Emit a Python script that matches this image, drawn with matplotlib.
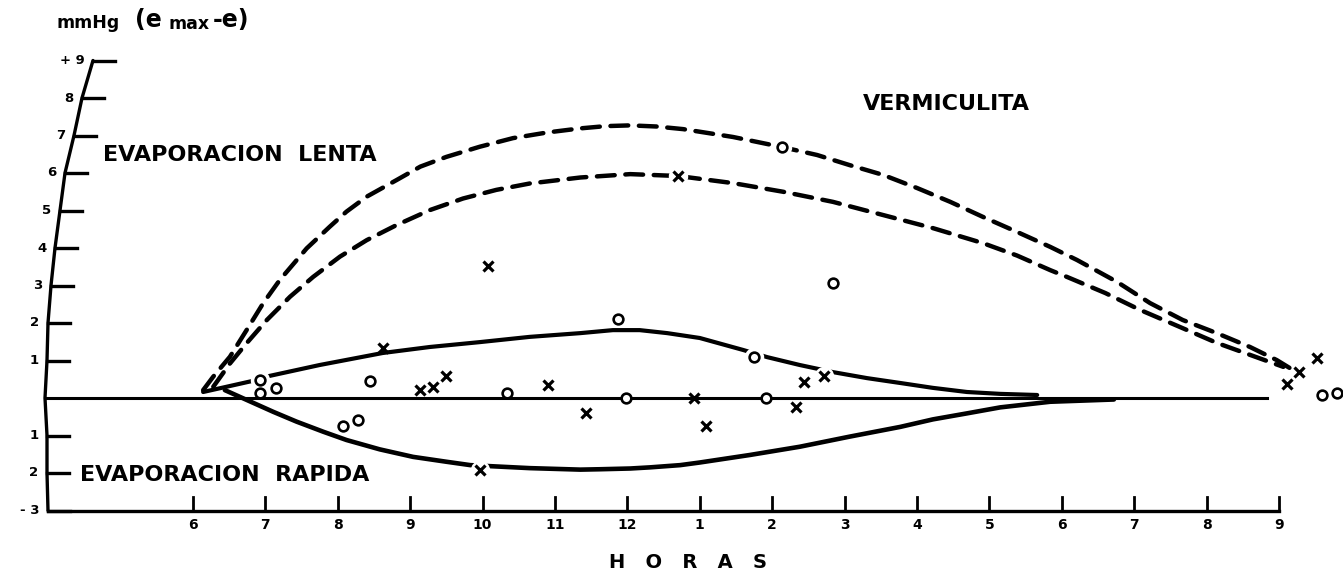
import matplotlib
matplotlib.use("Agg")
import matplotlib.pyplot as plt

# Datos (horas: 13 = 1 pm, etc.; mmHg)
horas_ticks = list(range(6, 22))
horas_etiquetas = ["6", "7", "8", "9", "10", "11", "12", "1", "2", "3", "4", "5", "6", "7", "8", "9"]
mm_ticks = list(range(-3, 10))
mm_etiquetas = ["- 3", "2", "1", "", "1", "2", "3", "4", "5", "6", "7", "8", "+ 9"]

# curvas punteadas (vermiculita)
sup_disc_x = [6.14, 6.28, 6.51, 6.74, 6.97, 7.20, 7.57, 7.89, 8.12, 8.40, 8.81, 9.14, 9.50,
              9.96, 10.42, 10.89, 11.35, 11.70, 12.04, 12.40, 12.77, 13.10, 13.46, 14.14, 14.62,
              15.07, 15.53, 16.00, 16.46, 16.91, 17.38, 17.84, 18.21, 18.76, 19.22, 19.67,
              20.14, 20.60, 20.97, 21.19]
sup_disc_y = [0.21, 0.57, 1.10, 1.81, 2.53, 3.15, 3.99, 4.57, 4.97, 5.37, 5.81, 6.17, 6.43,
              6.70, 6.93, 7.08, 7.19, 7.25, 7.27, 7.24, 7.17, 7.07, 6.96, 6.69, 6.48,
              6.21, 5.95, 5.60, 5.23, 4.83, 4.43, 4.03, 3.68, 3.10, 2.53, 2.08,
              1.73, 1.36, 1.01, 0.75]
inf_disc_x = [6.28, 6.51, 6.74, 7.02, 7.34, 7.66, 8.03, 8.40, 8.81, 9.27, 9.73, 10.19, 10.65,
              11.35, 12.04, 12.70, 13.46, 14.15, 14.84, 15.53, 16.22, 16.91, 17.38, 17.84,
              18.07, 18.60, 19.08, 19.60, 20.14, 20.60, 21.06]
inf_disc_y = [0.30, 0.92, 1.46, 2.08, 2.70, 3.23, 3.77, 4.21, 4.61, 5.01, 5.32, 5.55, 5.72,
              5.88, 5.97, 5.92, 5.73, 5.50, 5.23, 4.88, 4.53, 4.13, 3.80, 3.41,
              3.23, 2.80, 2.35, 1.92, 1.47, 1.15, 0.83]

# curvas continuas
sup_cont_x = [6.14, 6.51, 6.81, 7.06, 7.75, 8.62, 9.27, 9.96, 10.65, 11.35, 11.80, 12.17,
              12.55, 13.00, 13.60, 13.93, 14.38, 14.84, 15.31, 15.77, 16.22, 16.69, 17.15, 17.66]
sup_cont_y = [0.16, 0.32, 0.45, 0.59, 0.88, 1.20, 1.36, 1.49, 1.63, 1.73, 1.81, 1.81,
              1.73, 1.60, 1.28, 1.09, 0.88, 0.69, 0.53, 0.40, 0.27, 0.16, 0.11, 0.08]
inf_cont_x = [6.44, 6.74, 7.11, 7.43, 7.80, 8.12, 8.58, 9.04, 9.50, 9.83, 10.13, 10.65,
              11.35, 11.62, 12.04, 12.31, 12.73, 13.00, 13.69, 14.38, 15.07, 15.77, 16.22,
              16.69, 17.15, 17.84, 18.72]
inf_cont_y = [0.21, -0.05, -0.37, -0.63, -0.90, -1.12, -1.37, -1.57, -1.70, -1.79, -1.82, -1.87,
              -1.91, -1.90, -1.88, -1.85, -1.79, -1.72, -1.52, -1.30, -1.03, -0.77, -0.57,
              -0.41, -0.25, -0.10, -0.04]

# observaciones: circulos y cruces
circ_x = [6.93, 6.93, 7.15, 8.44, 10.34, 11.98, 8.07, 8.28, 11.87, 14.14, 14.84, 13.75,
          13.91, 21.59, 21.80]
circ_y = [0.48, 0.13, 0.27, 0.45, 0.13, 0.0, -0.75, -0.59, 2.11, 6.69, 3.07, 1.09,
          0.0, 0.08, 0.13]
cruz_x = [9.13, 9.31, 9.49, 10.90, 11.43, 9.96, 8.62, 10.07, 12.70, 14.72, 14.44, 12.92,
          14.33, 13.09, 21.11, 21.28, 21.52]
cruz_y = [0.21, 0.29, 0.59, 0.35, -0.40, -1.92, 1.33, 3.52, 5.92, 0.59, 0.43, 0.0,
          -0.24, -0.75, 0.37, 0.69, 1.07]
# puntos que interrumpen el trazo de una curva
corte_x = [6.93, 13.75, 14.14, 14.72, 9.96, 12.70]
corte_y = [0.48, 1.09, 6.69, 0.59, -1.92, 5.92]

# eje vertical dibujado a mano (posicion en pixeles para cada valor)
eje_px = [48, 47, 47, 45, 47, 48, 51, 55, 60, 65, 74, 82, 93]


def px2h(px):
    return 6 + (px - 193) / 72.4


fig = plt.figure(figsize=(13.43, 5.73), dpi=100)
ax = fig.add_axes([0, 0, 1, 1])
ax.set_xlim(px2h(0), px2h(1343))
ax.set_ylim(-175 / 37.5, 398 / 37.5)
ax.axis("off")

negro = "black"
fb = dict(family="DejaVu Sans", weight="bold", color=negro)

# eje Y curvo con marcas
eje_x = [px2h(p) for p in eje_px]
ax.plot(eje_x, mm_ticks, color=negro, lw=2.4, solid_capstyle="round", solid_joinstyle="round")
for xv, yv, lab in zip(eje_x, mm_ticks, mm_etiquetas):
    if yv != 0:
        ax.plot([xv, xv + 0.30], [yv, yv], color=negro, lw=2.4)
    if lab:
        ax.text(xv - 0.12, yv, lab, ha="right", va="center", fontsize=9.5, **fb)

# eje X
ax.plot([px2h(48), 21], [-3, -3], color=negro, lw=2.4)
for h, lab in zip(horas_ticks, horas_etiquetas):
    ax.plot([h, h], [-3, -2.64], color=negro, lw=2.0)
    ax.text(h, -3.39, lab, ha="center", va="center", fontsize=10, **fb)

# linea de cero
ax.plot([px2h(45), 20.83], [0, 0], color=negro, lw=2.2, zorder=2)

# curvas
estilo = dict(color=negro, zorder=2, solid_joinstyle="round", dash_joinstyle="round",
              dash_capstyle="round", solid_capstyle="round")
ax.plot(sup_disc_x, sup_disc_y, lw=3.2, dashes=(4.0, 2.4), **estilo)
ax.plot(inf_disc_x, inf_disc_y, lw=3.2, dashes=(4.0, 2.4), **estilo)
ax.plot(sup_cont_x, sup_cont_y, lw=3.0, **estilo)
ax.plot(inf_cont_x, inf_cont_y, lw=3.3, **estilo)

# huecos en las curvas alrededor de algunos puntos
ax.plot(corte_x, corte_y, "o", ms=14, mfc="white", mec="none", zorder=3)

ax.plot(circ_x, circ_y, "o", ms=7, mfc="white", mec=negro, mew=1.9, zorder=4)
ax.plot(cruz_x, cruz_y, "x", ms=7, mec=negro, mew=2.3, zorder=4)

# textos
ax.text(px2h(57), 10.0, "mmHg", ha="left", va="center", fontsize=12.5, **fb)
ax.text(px2h(135), 10.08, "(e", ha="left", va="center", fontsize=17, **fb)
ax.text(px2h(168), 9.98, "max", ha="left", va="center", fontsize=12.5, **fb)
ax.text(px2h(213), 10.08, "-e)", ha="left", va="center", fontsize=17, **fb)
ax.text(px2h(103), 6.48, "EVAPORACION  LENTA", ha="left", va="center", fontsize=16, **fb)
ax.text(px2h(80), -2.05, "EVAPORACION  RAPIDA", ha="left", va="center", fontsize=16, **fb)
ax.text(px2h(863), 7.84, "VERMICULITA", ha="left", va="center", fontsize=16, **fb)
ax.text(px2h(688), -4.40, "H   O   R   A   S", ha="center", va="center", fontsize=14, **fb)

fig.savefig("out.png", dpi=100, facecolor="white")
